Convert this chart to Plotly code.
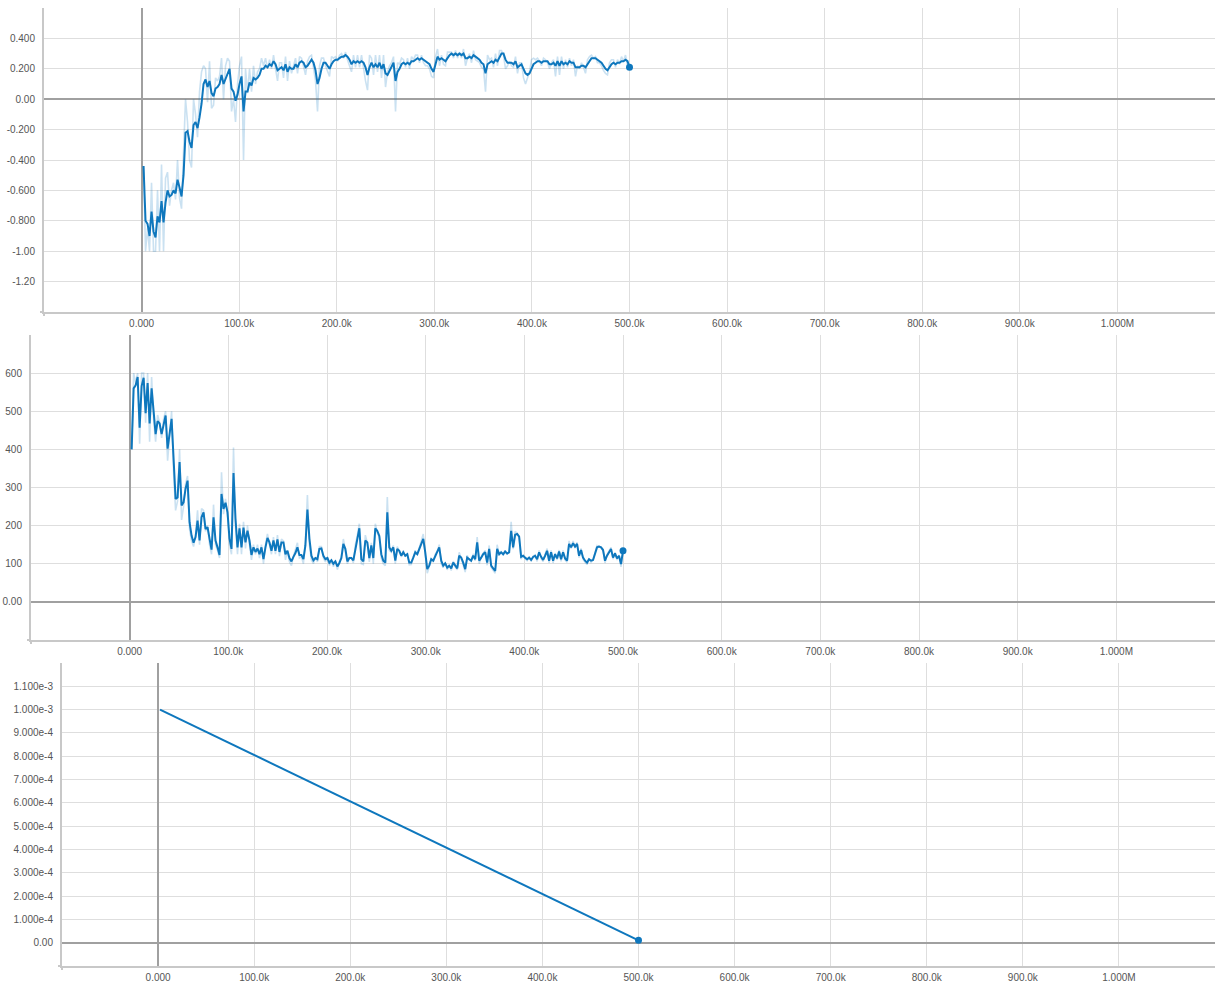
import numpy as np
import plotly.graph_objects as go

W, H = 1221, 987

# ---- scalar 1: episode reward (smoothed line + raw line) ----
reward_smooth = [
    -0.44, -0.80, -0.82, -0.90, -0.74, -0.87, -0.91, -0.77, -0.81, -0.67,
    -0.81, -0.68, -0.60, -0.64, -0.63, -0.60, -0.62, -0.53, -0.58, -0.64,
    -0.50, -0.22, -0.21, -0.28, -0.32, -0.17, -0.15, -0.19, -0.12, -0.03,
    0.10, 0.13, 0.08, 0.12, 0.04, 0.02, 0.07, 0.08, 0.10, 0.16,
    0.10, 0.13, 0.17, 0.20, 0.07, 0.05, -0.01, 0.03, 0.10, 0.15,
    -0.08, 0.05, 0.05, 0.11, 0.09, 0.14, 0.13, 0.14, 0.16, 0.20,
    0.20, 0.22, 0.21, 0.23, 0.22, 0.25, 0.23, 0.19, 0.20, 0.21,
    0.19, 0.23, 0.18, 0.21, 0.20, 0.20, 0.23, 0.21, 0.24, 0.25,
    0.24, 0.21, 0.22, 0.24, 0.26, 0.24, 0.19, 0.10, 0.14, 0.20,
    0.24, 0.24, 0.22, 0.20, 0.23, 0.25, 0.26, 0.26, 0.27, 0.28,
    0.28, 0.29, 0.28, 0.26, 0.23, 0.25, 0.24, 0.25, 0.24, 0.25,
    0.24, 0.21, 0.16, 0.21, 0.24, 0.21, 0.23, 0.21, 0.24, 0.20,
    0.23, 0.17,
    0.16, 0.19, 0.21, 0.24, 0.12, 0.18, 0.20, 0.23, 0.24, 0.23,
    0.24, 0.23, 0.25, 0.25, 0.26, 0.27, 0.26, 0.27, 0.26, 0.25,
    0.24, 0.23, 0.20, 0.18, 0.23, 0.28, 0.26, 0.27, 0.26, 0.25,
    0.27, 0.29, 0.30, 0.29, 0.30, 0.29, 0.30, 0.29, 0.30, 0.27,
    0.27, 0.28, 0.27, 0.29, 0.28, 0.27, 0.26, 0.24, 0.23, 0.17,
    0.23, 0.24, 0.25, 0.24, 0.26, 0.25, 0.28, 0.30, 0.30, 0.26,
    0.24, 0.24, 0.24, 0.23, 0.25, 0.21, 0.22, 0.23, 0.20, 0.17,
    0.16, 0.17, 0.20, 0.23, 0.24, 0.25, 0.25, 0.24, 0.25, 0.25,
    0.25, 0.23, 0.23, 0.24, 0.22, 0.25, 0.22, 0.25, 0.23, 0.24,
    0.23, 0.25, 0.24, 0.24, 0.21, 0.21, 0.21, 0.22, 0.22, 0.21,
    0.23, 0.25, 0.27, 0.27, 0.27, 0.26, 0.25, 0.24, 0.22, 0.20,
    0.19, 0.21, 0.23, 0.24, 0.23, 0.24, 0.24, 0.25, 0.25, 0.26,
    0.25, 0.21,
]
reward_raw = [
    -0.44, -1.00, -0.85, -1.00, -0.55, -1.00, -1.00, -0.60, -1.00, -0.43,
    -1.00, -0.52, -0.48, -0.70, -0.60, -0.55, -0.66, -0.40, -0.65, -0.72,
    -0.35, 0.00, -0.15, -0.40, -0.45, 0.00, -0.10, -0.25, 0.05, 0.18,
    0.22, 0.20, -0.02, 0.25, -0.06, -0.04, 0.14, 0.12, 0.15, 0.27,
    0.00, 0.22, 0.27, 0.25, -0.08, 0.00, -0.15, 0.10, 0.22, 0.28,
    -0.40, 0.20, 0.04, 0.20, 0.05, 0.22, 0.10, 0.18, 0.20, 0.27,
    0.22, 0.27, 0.20, 0.26, 0.20, 0.29, 0.20, 0.12, 0.24, 0.24,
    0.14, 0.28, 0.12, 0.25, 0.17, 0.22, 0.27, 0.17, 0.28, 0.27,
    0.22, 0.16, 0.25, 0.28, 0.29, 0.20, 0.12, -0.08, 0.22, 0.27,
    0.27, 0.22, 0.18, 0.15, 0.28, 0.27, 0.28, 0.25, 0.29, 0.30,
    0.27, 0.31, 0.26, 0.22, 0.18, 0.29, 0.21, 0.29, 0.21, 0.29,
    0.20, 0.12, 0.06, 0.29, 0.27, 0.16, 0.29, 0.18, 0.29, 0.14,
    0.29, 0.08,
    0.18, 0.22, 0.24, 0.28, -0.08, 0.24, 0.23, 0.27, 0.26, 0.21,
    0.27, 0.20, 0.28, 0.26, 0.29, 0.29, 0.24, 0.29, 0.24, 0.22,
    0.22, 0.20, 0.15, 0.14, 0.28, 0.33, 0.22, 0.29, 0.23, 0.22,
    0.31, 0.31, 0.31, 0.27, 0.32, 0.27, 0.31, 0.27, 0.33, 0.22,
    0.27, 0.30, 0.24, 0.32, 0.26, 0.25, 0.24, 0.21, 0.20, 0.05,
    0.29, 0.26, 0.27, 0.21, 0.30, 0.22, 0.32, 0.32, 0.29, 0.20,
    0.22, 0.25, 0.22, 0.21, 0.28, 0.17, 0.24, 0.24, 0.14, 0.10,
    0.14, 0.18, 0.26, 0.27, 0.26, 0.27, 0.25, 0.22, 0.27, 0.26,
    0.24, 0.20, 0.24, 0.26, 0.15, 0.28, 0.16, 0.28, 0.20, 0.26,
    0.21, 0.27, 0.22, 0.26, 0.15, 0.22, 0.20, 0.24, 0.21, 0.17,
    0.26, 0.28, 0.29, 0.27, 0.28, 0.24, 0.24, 0.22, 0.19, 0.17,
    0.16, 0.24, 0.26, 0.26, 0.21, 0.26, 0.23, 0.28, 0.25, 0.29,
    0.22, 0.21,
]

# ---- scalar 2: episode length (smoothed line + raw line) ----
length_smooth = [
    400, 560, 568, 590, 457, 566, 588, 495, 574, 468,
    560, 500, 440, 474, 468, 440, 468, 489, 402, 440,
    480, 375, 270, 274, 367, 253, 261, 297, 318, 209,
    174, 155, 170, 213, 161, 222, 235, 191, 196, 166,
    137, 222, 161, 143, 123, 283, 244, 260, 235, 166,
    139, 338, 218, 143, 193, 143, 195, 156, 187, 161,
    123, 143, 131, 140, 125, 143, 112, 143, 168, 156,
    134, 161, 134, 164, 131, 156, 156, 125, 134, 115,
    106, 118, 128, 143, 123, 123, 112, 148, 242, 166,
    121, 109, 115, 112, 139, 140, 121, 112, 115, 103,
    109, 100, 106, 93, 102, 115, 152, 139, 106, 115,
    115, 109, 140, 161, 193, 112, 106, 161, 156, 115,
    148, 115, 193, 186,
    173, 125, 108, 103, 235, 143, 134, 143, 108, 139,
    134, 121, 130, 121, 125, 103, 103, 116, 130, 125,
    139, 152, 165, 130, 86, 95, 112, 108, 121, 130,
    143, 108, 95, 101, 90, 95, 88, 103, 95, 88,
    121, 116, 103, 86, 116, 112, 108, 121, 112, 156,
    108, 116, 125, 130, 103, 139, 95, 88, 81, 139,
    125, 130, 125, 132, 127, 130, 186, 143, 176, 178,
    171, 118, 121, 116, 112, 116, 110, 118, 121, 112,
    130, 118, 110, 121, 134, 108, 130, 108, 125, 114,
    132, 112, 130, 114, 108, 152, 143, 154, 145, 152,
    121, 136, 116, 108, 103, 112, 108, 110, 125, 143,
    145, 143, 136, 108, 121, 130, 139, 116, 127, 114,
    121, 99, 134,
]
length_raw = [
    400, 600, 575, 600, 415, 600, 600, 470, 600, 420,
    590, 480, 420, 490, 470, 430, 480, 500, 370, 430,
    500, 340, 240, 265, 400, 215, 250, 310, 330, 190,
    160, 145, 175, 240, 150, 245, 240, 185, 200, 150,
    125, 255, 150, 135, 115, 340, 230, 270, 225, 150,
    125, 405, 200, 125, 205, 125, 210, 140, 200, 150,
    110, 150, 125, 150, 115, 150, 100, 150, 178, 150,
    125, 170, 125, 175, 120, 165, 160, 110, 135, 105,
    95, 120, 135, 155, 115, 118, 100, 160, 280, 150,
    110, 100, 117, 105, 145, 145, 115, 105, 117, 95,
    110, 92, 108, 85, 104, 120, 165, 135, 100, 116,
    116, 102, 150, 175, 205, 100, 98, 175, 155, 105,
    155, 100, 205, 180,
    170, 115, 100, 95, 275, 135, 130, 148, 100, 145,
    130, 118, 135, 118, 128, 97, 98, 118, 135, 124,
    143, 158, 178, 122, 75, 92, 115, 104, 125, 133,
    150, 100, 90, 103, 84, 97, 82, 107, 92, 84,
    130, 114, 98, 78, 122, 110, 106, 126, 108, 170,
    100, 118, 128, 135, 96, 148, 90, 84, 75, 150,
    122, 133, 122, 135, 124, 133, 210, 138, 185, 180,
    172, 112, 123, 114, 108, 118, 106, 120, 123, 106,
    135, 114, 106, 124, 140, 102, 135, 102, 128, 110,
    136, 106, 135, 110, 104, 160, 140, 160, 143, 156,
    116, 140, 112, 104, 98, 114, 104, 110, 128, 148,
    146, 144, 138, 102, 124, 133, 143, 112, 130, 110,
    123, 92, 134,
]

# ---- scalar 3: learning rate (linear decay) ----
lr_steps = [2000, 500000]
lr_values = [1.0e-3, 1.0e-5]

# first and last logged step of the two training scalars
first_step, last_step = 2000, 500000

# shared step axis
x_tickvals = [0, 100e3, 200e3, 300e3, 400e3, 500e3, 600e3, 700e3, 800e3, 900e3, 1e6]
x_ticktext = ["0.000", "100.0k", "200.0k", "300.0k", "400.0k", "500.0k",
              "600.0k", "700.0k", "800.0k", "900.0k", "1.000M"]

reward_ticks = [0.4, 0.2, 0.0, -0.2, -0.4, -0.6, -0.8, -1.0, -1.2]
reward_ticktext = ["0.400", "0.200", "0.00", "-0.200", "-0.400", "-0.600",
                   "-0.800", "-1.00", "-1.20"]
length_ticks = [600, 500, 400, 300, 200, 100, 0]
length_ticktext = ["600", "500", "400", "300", "200", "100", "0.00"]
lr_ticks = [1.1e-3, 1.0e-3, 9e-4, 8e-4, 7e-4, 6e-4, 5e-4, 4e-4, 3e-4, 2e-4, 1e-4, 0.0]
lr_ticktext = ["1.100e-3", "1.000e-3", "9.000e-4", "8.000e-4", "7.000e-4", "6.000e-4",
               "5.000e-4", "4.000e-4", "3.000e-4", "2.000e-4", "1.000e-4", "0.00"]

LINE = "rgb(14,119,189)"
RAW = "rgba(14,119,189,0.22)"
GRID = "#dedede"
ZERO = "#a0a0a0"
AXIS = "#c8c8c8"
FONT = dict(family="Liberation Sans, Arial, sans-serif", size=10, color="#555")

# pixel boxes of the three plot areas: (left, top, right, bottom)
boxes = [(44, 8, 1215, 312), (31, 335, 1215, 640), (62, 663, 1215, 966)]
y_ranges = [[-1.4, 0.6], [-100, 700], [-1e-4, 1.2e-3]]
y_ticks = [(reward_ticks, reward_ticktext), (length_ticks, length_ticktext),
           (lr_ticks, lr_ticktext)]

fig = go.Figure()


def add_scalar(idx, steps, raw, smooth):
    xa = "x" if idx == 1 else f"x{idx}"
    ya = "y" if idx == 1 else f"y{idx}"
    if raw is not None:
        fig.add_trace(go.Scatter(x=steps, y=raw, mode="lines", xaxis=xa, yaxis=ya,
                                 line=dict(color=RAW, width=1.6), hoverinfo="skip"))
    fig.add_trace(go.Scatter(x=steps, y=smooth, mode="lines", xaxis=xa, yaxis=ya,
                             line=dict(color=LINE, width=2), hoverinfo="skip"))
    fig.add_trace(go.Scatter(x=[steps[-1]], y=[smooth[-1]], mode="markers",
                             xaxis=xa, yaxis=ya, hoverinfo="skip",
                             marker=dict(color=LINE, size=7)))


reward_steps = np.linspace(first_step, last_step, len(reward_smooth))
length_steps = np.linspace(first_step, last_step, len(length_smooth))

add_scalar(1, reward_steps, reward_raw, reward_smooth)
add_scalar(2, length_steps, length_raw, length_smooth)
add_scalar(3, lr_steps, None, lr_values)

layout = dict(
    width=W, height=H, autosize=False,
    margin=dict(l=0, r=0, t=0, b=0),
    paper_bgcolor="white", plot_bgcolor="white",
    showlegend=False, font=FONT,
)

shapes = []
for i, (box, yr, (tv, tt)) in enumerate(zip(boxes, y_ranges, y_ticks), start=1):
    l, t, r, b = box
    xname = "xaxis" if i == 1 else f"xaxis{i}"
    yname = "yaxis" if i == 1 else f"yaxis{i}"
    xref = "x" if i == 1 else f"x{i}"
    yref = "y" if i == 1 else f"y{i}"
    layout[xname] = dict(
        domain=[l / W, r / W], anchor=yref, range=[-100000, 1100000],
        tickvals=x_tickvals, ticktext=x_ticktext, ticks="",
        showgrid=True, gridcolor=GRID, gridwidth=1,
        zeroline=True, zerolinecolor=ZERO, zerolinewidth=2,
        showline=True, linecolor=AXIS, linewidth=2,
        ticklabelstandoff=1, tickfont=FONT, fixedrange=True,
    )
    layout[yname] = dict(
        domain=[1 - b / H, 1 - t / H], anchor=xref, range=yr,
        tickvals=tv, ticktext=tt, ticks="",
        showgrid=True, gridcolor=GRID, gridwidth=1,
        zeroline=True, zerolinecolor=ZERO, zerolinewidth=2,
        showline=True, linecolor=AXIS, linewidth=2,
        ticklabelstandoff=5, tickfont=FONT, fixedrange=True,
    )
    # small end stubs where the two axis lines meet
    shapes.append(dict(type="line", xref="paper", yref="paper", layer="below",
                       x0=(l - 4) / W, x1=l / W, y0=1 - b / H, y1=1 - b / H,
                       line=dict(color=AXIS, width=2)))
    shapes.append(dict(type="line", xref="paper", yref="paper", layer="below",
                       x0=l / W, x1=l / W, y0=1 - (b + 4) / H, y1=1 - b / H,
                       line=dict(color=AXIS, width=2)))

layout["shapes"] = shapes
fig.update_layout(**layout)
fig.write_html("out.html", config={"displayModeBar": False})
